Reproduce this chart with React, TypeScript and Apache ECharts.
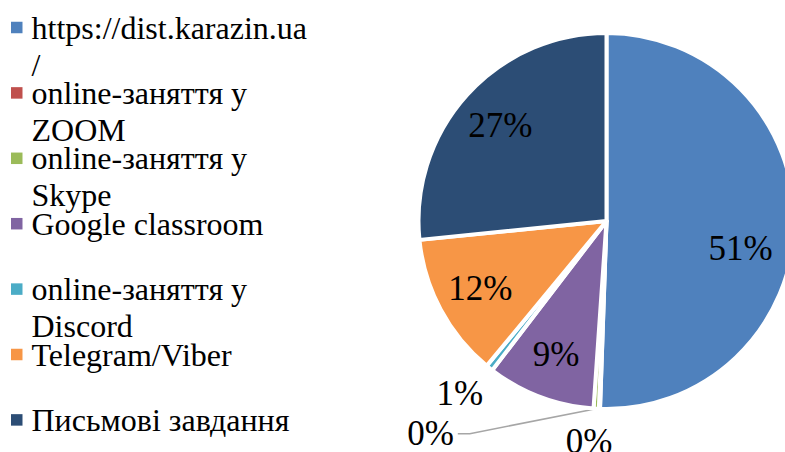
import React, { useEffect, useRef } from "react";
import * as echarts from "echarts";

// ---- data ----
const categories = [
  "https://dist.karazin.ua/",
  "online-заняття у ZOOM",
  "online-заняття у Skype",
  "Google classroom",
  "online-заняття у Discord",
  "Telegram/Viber",
  "Письмові завдання",
];
const legendLabels = [
  "https://dist.karazin.ua\n/",
  "online-заняття у\nZOOM",
  "online-заняття у\nSkype",
  "Google classroom",
  "online-заняття у\nDiscord",
  "Telegram/Viber",
  "Письмові завдання",
];
const shares = [50.55, 0.1, 0.45, 9.3, 0.6, 12.4, 26.6];
const colors = ["#4f81bd", "#c0504d", "#9bbb59", "#8064a2", "#4bacc6", "#f79646", "#2c4d75"];
// where each slice's label goes
const placement = ["inner", "outer", "leader", "inner", "outer", "inner", "inner"];

// ---- style ----
const FONT = "Liberation Serif";
const CX = 606.5;
const CY = 221;
const R = 188;
const LH = 37;
const LEG_TOP0 = 27.5;
const LEG_STEP = 65.4;
const ICON = 11.5;

const fmt = (p: any) => `${Math.round(p.value)}%`;
const labelText = { fontFamily: FONT, fontSize: 35, color: "#000" };

function buildOption() {
  const legends = categories.map((name, i) => {
    const lines = legendLabels[i].split("\n").length;
    // a leading blank line keeps the first text line level with the icon
    const text = lines > 1 ? " \n" + legendLabels[i] : legendLabels[i];
    const h = (lines > 1 ? lines + 1 : 1) * LH;
    const center = LEG_TOP0 + i * LEG_STEP;
    return {
      show: true,
      left: 11,
      top: center - h / 2,
      padding: 0,
      orient: "vertical",
      icon: "rect",
      itemWidth: ICON,
      itemHeight: ICON,
      selectedMode: false,
      itemStyle: { borderWidth: 0 },
      formatter: text,
      textStyle: {
        fontFamily: FONT,
        fontSize: 32,
        lineHeight: LH,
        color: "#000",
        padding: [0, 0, 0, 4],
      },
      data: [name],
    };
  });

  const main = {
    type: "pie",
    radius: [0, R],
    center: [CX, CY],
    startAngle: 90,
    clockwise: true,
    avoidLabelOverlap: false,
    itemStyle: { borderColor: "#fff", borderWidth: 4 },
    emphasis: { disabled: true },
    label: { show: false, position: "outside", formatter: fmt, distanceToLabelLine: 4, ...labelText },
    labelLine: {
      show: false,
      length: 25,
      length2: 137,
      lineStyle: { color: "#a6a6a6", width: 1.5 },
    },
    labelLayout: (p: any) => {
      if (placement[p.dataIndex] !== "leader" || !p.labelLinePoints) return {};
      const pts = p.labelLinePoints;
      return { labelLinePoints: [pts[0], [pts[2][0] + 12, pts[2][1]], pts[2]] };
    },
    data: categories.map((name, i) => ({
      name,
      value: shares[i],
      itemStyle: { color: colors[i] },
      label: { show: placement[i] === "leader" },
      labelLine: { show: placement[i] === "leader" },
    })),
  };

  const overlay = (radius: number[], kind: string, layout?: any) => ({
    type: "pie",
    radius,
    center: [CX, CY],
    startAngle: 90,
    clockwise: true,
    silent: true,
    avoidLabelOverlap: false,
    emphasis: { disabled: true },
    itemStyle: { color: "rgba(0,0,0,0)", borderWidth: 0 },
    label: { show: false, position: "inside", formatter: fmt, ...labelText },
    labelLine: { show: false },
    labelLayout: layout,
    data: categories.map((name, i) => ({
      name,
      value: shares[i],
      label: { show: placement[i] === kind },
    })),
  });

  return {
    animation: false,
    backgroundColor: "#fff",
    legend: legends,
    series: [
      main,
      overlay([100, 180], "inner", (p: any) => (p.dataIndex === 0 ? { dx: -9, dy: 25 } : {})),
      overlay([196, 240], "outer", () => ({ dx: -9 })),
    ],
  };
}

export default function App() {
  const ref = useRef<HTMLDivElement>(null);
  useEffect(() => {
    if (!ref.current) return;
    const chart = echarts.init(ref.current, undefined, { renderer: "svg" });
    chart.setOption(buildOption() as any);
    return () => chart.dispose();
  }, []);
  return (
    <div
      ref={ref}
      style={{ position: "absolute", left: 0, top: 0, width: 785, height: 452, background: "#fff" }}
    />
  );
}
